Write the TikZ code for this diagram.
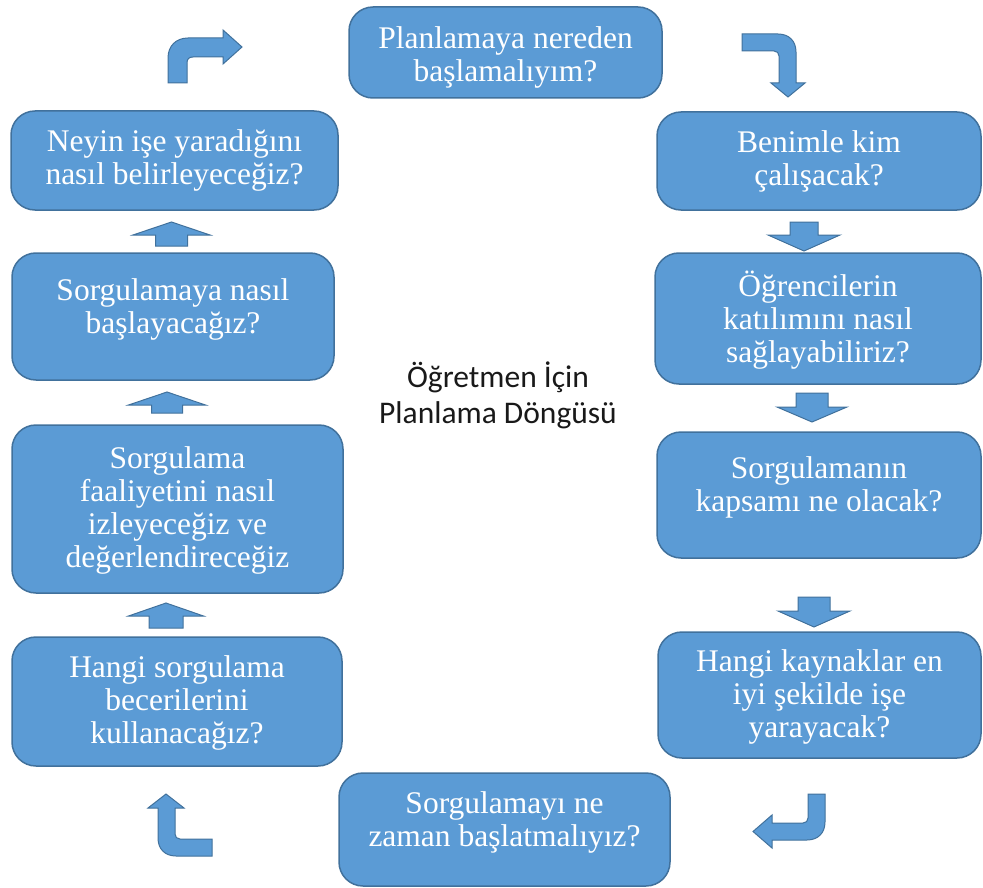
\documentclass[tikz,border=0pt]{standalone}
\usepackage{fontspec}
\setmainfont{Liberation Serif}
\newfontfamily\cfont{Carlito}
\usetikzlibrary{calc}
\definecolor{bfill}{HTML}{5B9BD5}
\definecolor{bdraw}{HTML}{41719C}
\newcommand\mybox[7]{%
  \node[box, minimum width={#4-#2}, minimum height={#5-#3}] (#1) at ({(#2+#4)/2},{(#3+#5)/2}) {};
  \node[btext] (#1t) at ($(#1.center)+(0,#6)$) {#7};}
% cx, tip, headbase, tail, head half width, shaft half width
\newcommand\blkarrow[6]{%
  \draw[blk] ({#1-#6},#4) -- ({#1-#6},#3) -- ({#1-#5},#3) -- (#1,#2) -- ({#1+#5},#3) -- ({#1+#6},#3) -- ({#1+#6},#4) -- cycle;}
\begin{document}
\begin{tikzpicture}[x=1pt,y=-1pt,
  box/.style={draw=bdraw, fill=bfill, line width=1.5pt, rounded corners=24pt, inner sep=0pt},
  btext/.style={text=white, align=center, font=\fontsize{31.5}{33}\selectfont, inner sep=0pt},
  blk/.style={draw=bdraw, fill=bfill, line width=1pt, line join=miter},
  title/.style={text=black!90, align=center, font=\cfont\fontsize{31.5}{36}\selectfont, inner sep=0pt}]
\useasboundingbox (0,0) rectangle (983,888);
% boxes
\mybox{T}{349}{7}{662}{98}{5}{Planlamaya nereden\\başlamalıyım?}
\mybox{R1}{657}{112}{981}{210}{0}{Benimle kim\\çalışacak?}
\mybox{R2}{655}{253}{981}{384}{2}{Öğrencilerin\\katılımını nasıl\\sağlayabiliriz?}
\mybox{R3}{657}{432}{981}{558}{-8}{Sorgulamanın\\kapsamı ne olacak?}
\mybox{R4}{658}{632}{981}{758}{2}{Hangi kaynaklar en\\iyi şekilde işe\\yarayacak?}
\mybox{B}{339}{773}{670}{886}{-7}{Sorgulamayı ne\\zaman başlatmalıyız?}
\mybox{L4}{12}{637}{342}{766}{1}{Hangi sorgulama\\becerilerini\\kullanacağız?}
\mybox{L3}{12}{425}{343}{593}{1}{Sorgulama\\faaliyetini nasıl\\izleyeceğiz ve\\değerlendireceğiz}
\mybox{L2}{12}{253}{334}{380}{-7}{Sorgulamaya nasıl\\başlayacağız?}
\mybox{L1}{11}{111}{338}{210}{0}{Neyin işe yaradığını\\nasıl belirleyeceğiz?}
% centre title
\node[title] (title) at (498,395) {Öğretmen İçin\\Planlama Döngüsü};
% straight block arrows, left column (up)
\blkarrow{171.5}{222}{235}{246}{38.5}{16}
\blkarrow{167}{392}{405}{413}{38.5}{15.5}
\blkarrow{166}{603}{616}{628}{37.5}{17}
% right column (down)
\blkarrow{804}{251}{235}{222}{36}{14}
\blkarrow{812}{422}{407}{393}{35}{16}
\blkarrow{814}{627}{611}{597}{36}{16}
% bent arrows
\draw[blk] (168,83) -- (168,58) .. controls (168,46) and (176,38) .. (188,38) -- (223,38) -- (223,30) -- (242,47) -- (223,64) -- (223,57) -- (193,57) .. controls (189,57) and (187,59) .. (187,63) -- (187,83) -- cycle;
\draw[blk] (742,34) -- (778,34) .. controls (789,34) and (796,41) .. (796,52) -- (796,83) -- (805,83) -- (788,97) -- (771,83) -- (779,83) -- (779,56) .. controls (779,53) and (777,51) .. (774,51) -- (742,51) -- cycle;
\draw[blk] (212,839) -- (180,839) .. controls (177,839) and (175,837) .. (175,834) -- (175,808) -- (184,808) -- (166,794) -- (148,808) -- (158,808) -- (158,838) .. controls (158,849) and (165,856) .. (176,856) -- (212,856) -- cycle;
\draw[blk] (808,794) -- (825,794) -- (825,822) .. controls (825,833) and (818,840) .. (807,840) -- (772,840) -- (772,848) -- (753,831.5) -- (772,815) -- (772,823) -- (803,823) .. controls (806,823) and (808,821) .. (808,818) -- cycle;
\end{tikzpicture}
\end{document}
